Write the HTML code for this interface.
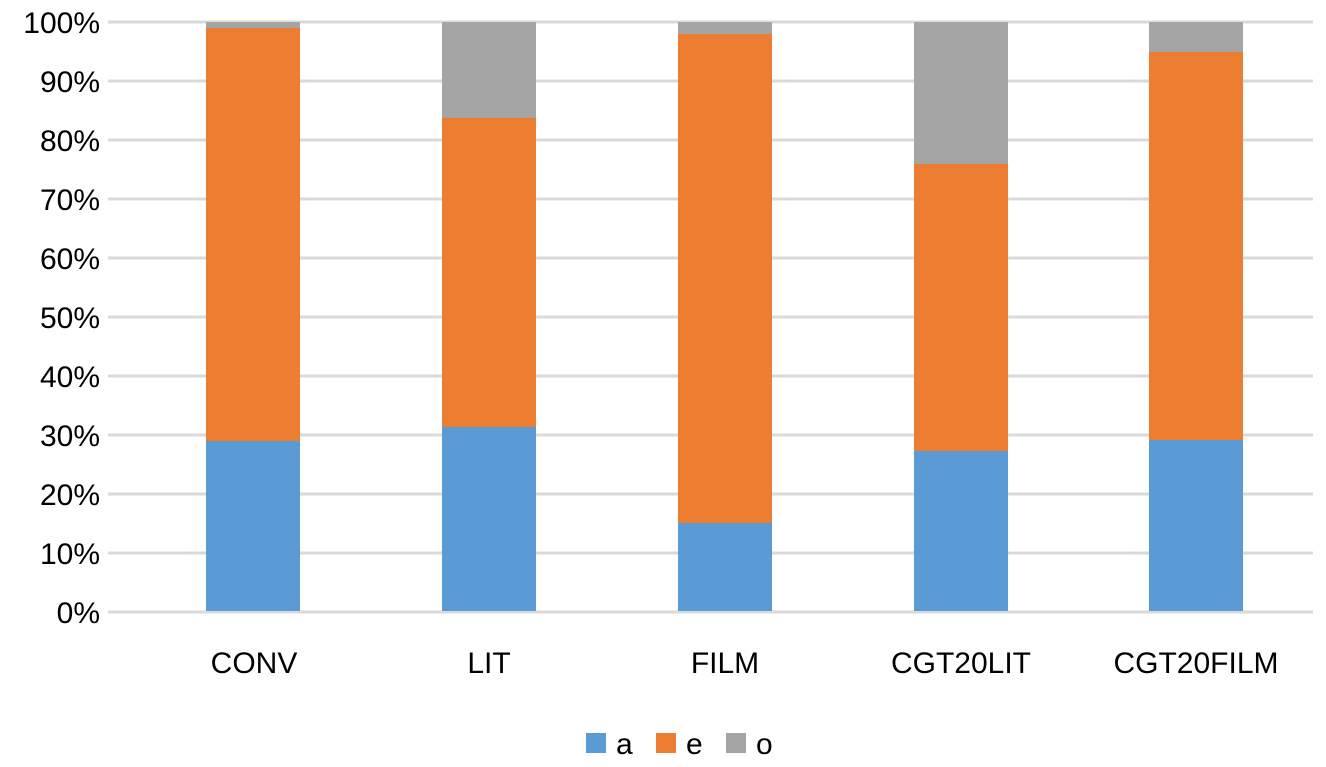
<!DOCTYPE html>
<html><head><meta charset="utf-8"><style>body{margin:0;background:#fff}svg{display:block}text{font-family:"Liberation Sans",sans-serif;fill:#000}</style></head>
<body>
<svg width="1326" height="767" viewBox="0 0 1326 767">
<g stroke="#d9d9d9" stroke-width="3">
<line x1="108" x2="1313" y1="22" y2="22"/><line x1="108" x2="1313" y1="81" y2="81"/><line x1="108" x2="1313" y1="140" y2="140"/><line x1="108" x2="1313" y1="199" y2="199"/><line x1="108" x2="1313" y1="258" y2="258"/><line x1="108" x2="1313" y1="317" y2="317"/><line x1="108" x2="1313" y1="376" y2="376"/><line x1="108" x2="1313" y1="435" y2="435"/><line x1="108" x2="1313" y1="494" y2="494"/><line x1="108" x2="1313" y1="553" y2="553"/><line x1="108" x2="1313" y1="612" y2="612"/>
</g>
<g font-size="30" text-anchor="end">
<text x="100" y="33">100%</text><text x="100" y="92">90%</text><text x="100" y="151">80%</text><text x="100" y="210">70%</text><text x="100" y="269">60%</text><text x="100" y="328">50%</text><text x="100" y="387">40%</text><text x="100" y="446">30%</text><text x="100" y="505">20%</text><text x="100" y="564">10%</text><text x="100" y="623">0%</text>
</g>
<g>
<rect x="206" y="22" width="94" height="6" fill="#a5a5a5"/><rect x="206" y="28" width="94" height="413" fill="#ed7d31"/><rect x="206" y="441" width="94" height="170" fill="#5b9bd5"/>
<rect x="442" y="22" width="94" height="96" fill="#a5a5a5"/><rect x="442" y="118" width="94" height="309" fill="#ed7d31"/><rect x="442" y="427" width="94" height="184" fill="#5b9bd5"/>
<rect x="678" y="22" width="94" height="12" fill="#a5a5a5"/><rect x="678" y="34" width="94" height="489" fill="#ed7d31"/><rect x="678" y="523" width="94" height="88" fill="#5b9bd5"/>
<rect x="914" y="22" width="94" height="142" fill="#a5a5a5"/><rect x="914" y="164" width="94" height="287" fill="#ed7d31"/><rect x="914" y="451" width="94" height="160" fill="#5b9bd5"/>
<rect x="1149" y="22" width="94" height="30" fill="#a5a5a5"/><rect x="1149" y="52" width="94" height="388" fill="#ed7d31"/><rect x="1149" y="440" width="94" height="171" fill="#5b9bd5"/>
</g>
<g font-size="30" text-anchor="middle">
<text x="254" y="673">CONV</text><text x="489" y="673">LIT</text><text x="725" y="673">FILM</text><text x="961" y="673">CGT20LIT</text><text x="1196" y="673">CGT20FILM</text>
</g>
<g font-size="30">
<rect x="586" y="733" width="20" height="20" fill="#5b9bd5"/><text x="616" y="754">a</text>
<rect x="656" y="733" width="20" height="20" fill="#ed7d31"/><text x="686" y="754">e</text>
<rect x="726" y="733" width="20" height="20" fill="#a5a5a5"/><text x="756" y="754">o</text>
</g>
</svg>
</body></html>
